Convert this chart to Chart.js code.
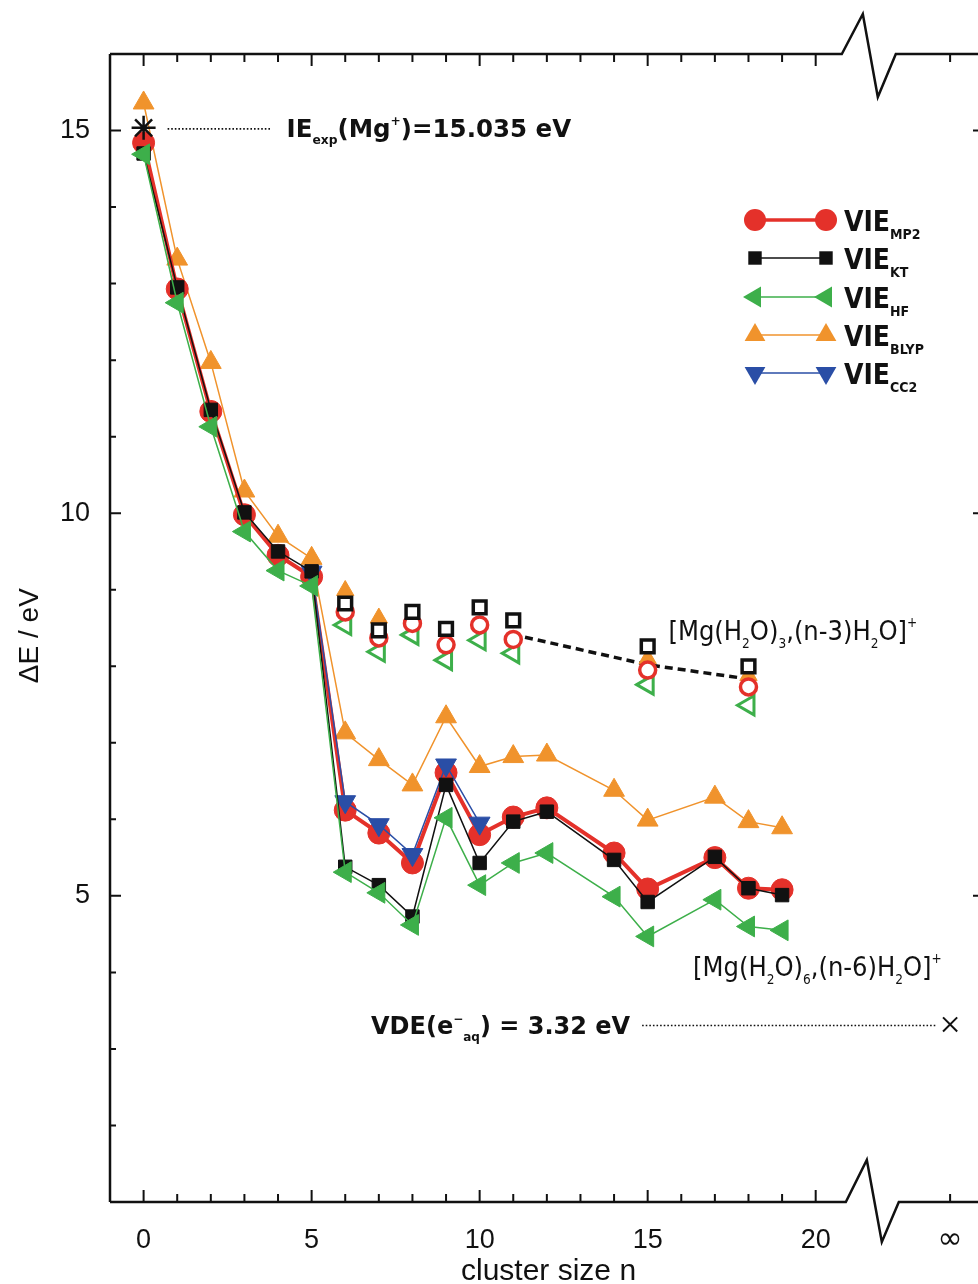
<!DOCTYPE html>
<html lang="en">
<head>
<meta charset="UTF-8">
<title>Vertical ionisation energies of Mg+(H2O)n</title>
<script src="https://cdn.jsdelivr.net/npm/chart.js"></script>
<style>
    html, body { margin: 0; padding: 0; background: #fff; overflow: hidden; }
    #wrap { width: 978px; height: 1284px; }
</style>
</head>
<body>
<div id="wrap"><canvas id="vieChart" width="978" height="1284"></canvas></div>
<script>
// lower branch [Mg(H2O)6,(n-6)H2O]+ : cluster sizes and VIEs (eV)
const sizes   = [0, 1, 2, 3, 4, 5, 6, 7, 8, 9, 10, 11, 12, 14, 15, 17, 18, 19];
const vieMP2  = [14.84, 12.93, 11.33, 9.98, 9.45, 9.17, 6.12, 5.82, 5.43, 6.61, 5.80, 6.03, 6.15, 5.56, 5.09, 5.50, 5.10, 5.08];
const vieKT   = [14.70, 12.95, 11.35, 10.01, 9.50, 9.24, 5.38, 5.14, 4.73, 6.45, 5.43, 5.97, 6.10, 5.47, 4.92, 5.51, 5.10, 5.01];
const vieHF   = [14.69, 12.75, 11.13, 9.76, 9.25, 9.05, 5.31, 5.04, 4.62, 6.02, 5.14, 5.43, 5.56, 4.99, 4.47, 4.95, 4.60, 4.55];
const vieBLYP = [15.36, 13.32, 11.97, 10.29, 9.70, 9.41, 7.13, 6.78, 6.45, 7.34, 6.69, 6.82, 6.84, 6.38, 5.99, 6.29, 5.97, 5.89];
const sizesCC2 = [5, 6, 7, 8, 9, 10];
const vieCC2   = [9.23, 6.23, 5.93, 5.54, 6.71, 5.95];

// upper branch [Mg(H2O)3,(n-3)H2O]+ (open symbols)
const sizesUp = [6, 7, 8, 9, 10, 11, 15, 18];
const upMP2   = [8.71, 8.37, 8.56, 8.28, 8.54, 8.35, 7.95, 7.73];
const upKT    = [8.82, 8.47, 8.71, 8.49, 8.77, 8.60, 8.26, 8.00];
const upHF    = [8.54, 8.19, 8.41, 8.08, 8.34, 8.17, 7.76, 7.49];
const sizesUpBLYP = [6, 7, 8, 15, 18];
const upBLYP      = [8.99, 8.63, 8.60, 8.10, 7.88];
// dashed guide through the upper branch
const guideX = [11.35, 15, 17.9];
const guideY = [8.38, 8.02, 7.84];

// reference values
const ieExp = 15.035;   // IE(Mg+), n = 0
const vdeAq = 3.32;     // VDE(e-aq), n = infinity
const nInf = 24;        // axis position used for infinity

const xTickLabels = [0, 5, 10, 15, 20];
const yTickLabels = [5, 10, 15];

const RED = '#e4312a', BLACK = '#111111', GREEN = '#3daf4a', ORANGE = '#f0932c', BLUE = '#2a4ea6';

function pts(xs, ys) {
    return xs.map((x, i) => ({ x: x, y: ys[i] }));
}

// marker drawing for the hand-made legend
function marker(ctx, style, x, y, r, rot) {
    ctx.beginPath();
    if (style === 'circle') {
        ctx.arc(x, y, r, 0, Math.PI * 2);
    } else if (style === 'rect') {
        const s = r / Math.SQRT2;
        ctx.rect(x - s, y - s, 2 * s, 2 * s);
    } else {
        let a = (rot || 0) * Math.PI / 180;
        ctx.moveTo(x + Math.sin(a) * r, y - Math.cos(a) * r);
        for (let k = 0; k < 2; k++) {
            a += 2 * Math.PI / 3;
            ctx.lineTo(x + Math.sin(a) * r, y - Math.cos(a) * r);
        }
        ctx.closePath();
    }
    ctx.fill();
}

// text with sub/superscripts: parts = [[text, 'n'|'b'|'p'], ...]
function rich(ctx, x, y, parts, size, weight, family, align) {
    const fnt = s => weight + ' ' + s + 'px ' + family;
    let w = 0;
    parts.forEach(p => {
        ctx.font = fnt(p[1] === 'n' ? size : size * 0.5);
        w += ctx.measureText(p[0]).width;
    });
    let cx = align === 'right' ? x - w : x;
    ctx.textAlign = 'left';
    ctx.textBaseline = 'alphabetic';
    parts.forEach(p => {
        const small = p[1] !== 'n';
        ctx.font = fnt(small ? size * 0.5 : size);
        const dy = p[1] === 'b' ? size * 0.28 : (p[1] === 'p' ? -size * 0.48 : 0);
        ctx.fillText(p[0], cx, y + dy);
        cx += ctx.measureText(p[0]).width;
    });
}

const framePlugin = {
    id: 'frame',
    afterDraw(chart) {
        const ctx = chart.ctx;
        const xs = chart.scales.x, ys = chart.scales.y;
        const a = chart.chartArea;
        const L = a.left, R = a.right, T = a.top, B = a.bottom;
        const bx = xs.getPixelForValue(21.7);
        ctx.save();
        ctx.strokeStyle = BLACK;
        ctx.fillStyle = BLACK;
        ctx.lineWidth = 2.5;
        ctx.lineJoin = 'miter';

        // frame with axis breaks (right edge falls outside the picture)
        ctx.beginPath();
        ctx.moveTo(L, T); ctx.lineTo(L, B);
        ctx.moveTo(L, B); ctx.lineTo(bx - 27, B); ctx.lineTo(bx - 6, B - 42);
        ctx.lineTo(bx + 9, B + 40); ctx.lineTo(bx + 26, B); ctx.lineTo(R, B);
        ctx.moveTo(R, T);
        ctx.lineTo(bx + 23, T); ctx.lineTo(bx + 5, T + 43); ctx.lineTo(bx - 10, T - 40);
        ctx.lineTo(bx - 31, T); ctx.lineTo(L, T);
        ctx.stroke();

        // ticks
        ctx.lineWidth = 2;
        ctx.beginPath();
        const xt = [];
        for (let n = 0; n <= 20; n++) xt.push(n);
        xt.push(nInf);
        xt.forEach(n => {
            const px = xs.getPixelForValue(n);
            const len = (n % 5 === 0 && n !== nInf) ? 12 : 8;
            ctx.moveTo(px, B); ctx.lineTo(px, B - len);
            ctx.moveTo(px, T); ctx.lineTo(px, T + len);
        });
        for (let v = 1; v <= 16; v++) {
            const py = ys.getPixelForValue(v);
            const len = v % 5 === 0 ? 11 : 6;
            ctx.moveTo(L, py); ctx.lineTo(L + len, py);
            if (v % 5 === 0) { ctx.moveTo(R, py); ctx.lineTo(R - 5, py); }
        }
        ctx.stroke();

        // tick labels
        ctx.font = '27px "Liberation Sans", Arial, sans-serif';
        ctx.textAlign = 'center';
        ctx.textBaseline = 'middle';
        xTickLabels.forEach(n => ctx.fillText(String(n), xs.getPixelForValue(n), B + 39));
        ctx.font = '30px "DejaVu Sans", sans-serif';
        ctx.fillText('\u221E', xs.getPixelForValue(nInf), B + 38);
        ctx.font = '27px "Liberation Sans", Arial, sans-serif';
        ctx.textAlign = 'right';
        yTickLabels.forEach(v => ctx.fillText(String(v), L - 20, ys.getPixelForValue(v)));

        // axis titles
        ctx.textAlign = 'center';
        ctx.font = '30px "Liberation Sans", Arial, sans-serif';
        ctx.fillText('cluster size n', xs.getPixelForValue(12.05), B + 70);
        ctx.font = '28px "Liberation Sans", Arial, sans-serif';
        ctx.save();
        ctx.translate(30, ys.getPixelForValue(8.4));
        ctx.rotate(-Math.PI / 2);
        ctx.fillText('\u0394E / eV', 0, 0);
        ctx.restore();

        // IE(Mg+) annotation
        const sx = xs.getPixelForValue(0), sy = ys.getPixelForValue(ieExp);
        ctx.lineWidth = 1.6;
        ctx.setLineDash([1.6, 2]);
        ctx.beginPath();
        ctx.moveTo(sx + 24, sy + 1); ctx.lineTo(sx + 128, sy + 1);
        ctx.stroke();
        const bold = '"DejaVu Sans", sans-serif';
        rich(ctx, sx + 143, sy + 9, [['IE', 'n'], ['exp', 'b'], ['(Mg', 'n'], ['+', 'p'], [')=15.035 eV', 'n']], 24.5, 'bold', bold, 'left');

        // VDE(e-aq) annotation
        const vx = xs.getPixelForValue(nInf), vy = ys.getPixelForValue(vdeAq);
        ctx.beginPath();
        ctx.moveTo(vx - 308, vy + 1); ctx.lineTo(vx - 14, vy + 1);
        ctx.stroke();
        ctx.setLineDash([]);
        rich(ctx, vx - 320, vy + 10, [['VDE(e', 'n'], ['\u2212', 'p'], ['aq', 'b'], [') = 3.32 eV', 'n']], 24, 'bold', bold, 'right');

        // branch labels
        const cond = '"DejaVu Sans Condensed", "DejaVu Sans", sans-serif';
        rich(ctx, xs.getPixelForValue(15.62), ys.getPixelForValue(8.34),
            [['[Mg(H', 'n'], ['2', 'b'], ['O)', 'n'], ['3', 'b'], [',(n-3)H', 'n'], ['2', 'b'], ['O]', 'n'], ['+', 'p']],
            27, 'normal', cond, 'left');
        rich(ctx, xs.getPixelForValue(16.35), ys.getPixelForValue(3.95),
            [['[Mg(H', 'n'], ['2', 'b'], ['O)', 'n'], ['6', 'b'], [',(n-6)H', 'n'], ['2', 'b'], ['O]', 'n'], ['+', 'p']],
            27, 'normal', cond, 'left');

        // legend
        const rows = [
            { sub: 'MP2', color: RED, style: 'circle', r: 11, lw: 3.5 },
            { sub: 'KT', color: BLACK, style: 'rect', r: 9.5, lw: 1.5 },
            { sub: 'HF', color: GREEN, style: 'triangle', r: 12, rot: 270, lw: 1.5 },
            { sub: 'BLYP', color: ORANGE, style: 'triangle', r: 12, lw: 1.5 },
            { sub: 'CC2', color: BLUE, style: 'triangle', r: 12, rot: 180, lw: 1.5 }
        ];
        const rowY = [220, 258, 297, 335, 373];
        rows.forEach((r, i) => {
            const y = rowY[i];
            ctx.strokeStyle = r.color;
            ctx.fillStyle = r.color;
            ctx.lineWidth = r.lw;
            ctx.beginPath();
            ctx.moveTo(755, y); ctx.lineTo(826, y);
            ctx.stroke();
            marker(ctx, r.style, 755, y, r.r, r.rot);
            marker(ctx, r.style, 826, y, r.r, r.rot);
            ctx.fillStyle = BLACK;
            rich(ctx, 844, y + 11, [['VIE', 'n'], [r.sub, 'b']], 28, 'bold', cond, 'left');
        });
        ctx.restore();
    }
};

const lineSet = (label, xs, ys, color, style, radius, lw, rot) => ({
    label: label,
    data: pts(xs, ys),
    showLine: true,
    borderColor: color,
    backgroundColor: color,
    borderWidth: lw,
    pointStyle: style,
    pointRadius: radius,
    pointRotation: rot || 0,
    pointBorderWidth: 1,
    pointBorderColor: color,
    pointBackgroundColor: color
});

const openSet = (label, xs, ys, color, style, radius, rot, bw) => ({
    label: label,
    data: pts(xs, ys),
    showLine: false,
    pointStyle: style,
    pointRadius: radius,
    pointRotation: rot || 0,
    pointBorderWidth: bw,
    pointBorderColor: color,
    pointBackgroundColor: '#ffffff'
});

const datasets = [
    {
        label: 'IE exp',
        data: [{ x: 0, y: ieExp }],
        pointStyle: 'star', pointRadius: 12, pointBorderWidth: 2.5,
        pointBorderColor: BLACK, pointBackgroundColor: BLACK
    },
    {
        label: 'VDE aq',
        data: [{ x: nInf, y: vdeAq }],
        pointStyle: 'crossRot', pointRadius: 10, pointBorderWidth: 2,
        pointBorderColor: BLACK, pointBackgroundColor: BLACK
    },
    lineSet('VIE HF', sizes, vieHF, GREEN, 'triangle', 12, 1.5, 270),
    lineSet('VIE KT', sizes, vieKT, BLACK, 'rect', 9.5, 1.5),
    lineSet('VIE CC2', sizesCC2, vieCC2, BLUE, 'triangle', 12, 1.5, 180),
    lineSet('VIE MP2', sizes, vieMP2, RED, 'circle', 11, 4),
    lineSet('VIE BLYP', sizes, vieBLYP, ORANGE, 'triangle', 12, 1.5),
    openSet('KT (n-3)', sizesUp, upKT, BLACK, 'rect', 9, 0, 3.5),
    openSet('MP2 (n-3)', sizesUp, upMP2, RED, 'circle', 8, 0, 3.5),
    openSet('HF (n-3)', sizesUp, upHF, GREEN, 'triangle', 11, 270, 3),
    {
        label: 'BLYP (n-3)',
        data: pts(sizesUpBLYP, upBLYP),
        pointStyle: 'triangle', pointRadius: 10, pointBorderWidth: 1,
        pointBorderColor: ORANGE, pointBackgroundColor: ORANGE
    },
    {
        label: 'guide',
        data: pts(guideX, guideY),
        showLine: true, pointRadius: 0,
        borderColor: BLACK, borderWidth: 3.5, borderDash: [8, 5]
    }
];

const ctx = document.getElementById('vieChart').getContext('2d');
const chart = new Chart(ctx, {
    type: 'scatter',
    data: { datasets: datasets },
    options: {
        responsive: false,
        animation: false,
        devicePixelRatio: 1,
        events: [],
        layout: { autoPadding: false, padding: { left: 110, top: 54, right: 0, bottom: 82 } },
        scales: {
            x: { type: 'linear', min: -1, max: 24.83, display: false },
            y: { type: 'linear', min: 1, max: 16, display: false }
        },
        plugins: {
            legend: { display: false },
            tooltip: { enabled: false }
        }
    },
    plugins: [framePlugin]
});
</script>
</body>
</html>
